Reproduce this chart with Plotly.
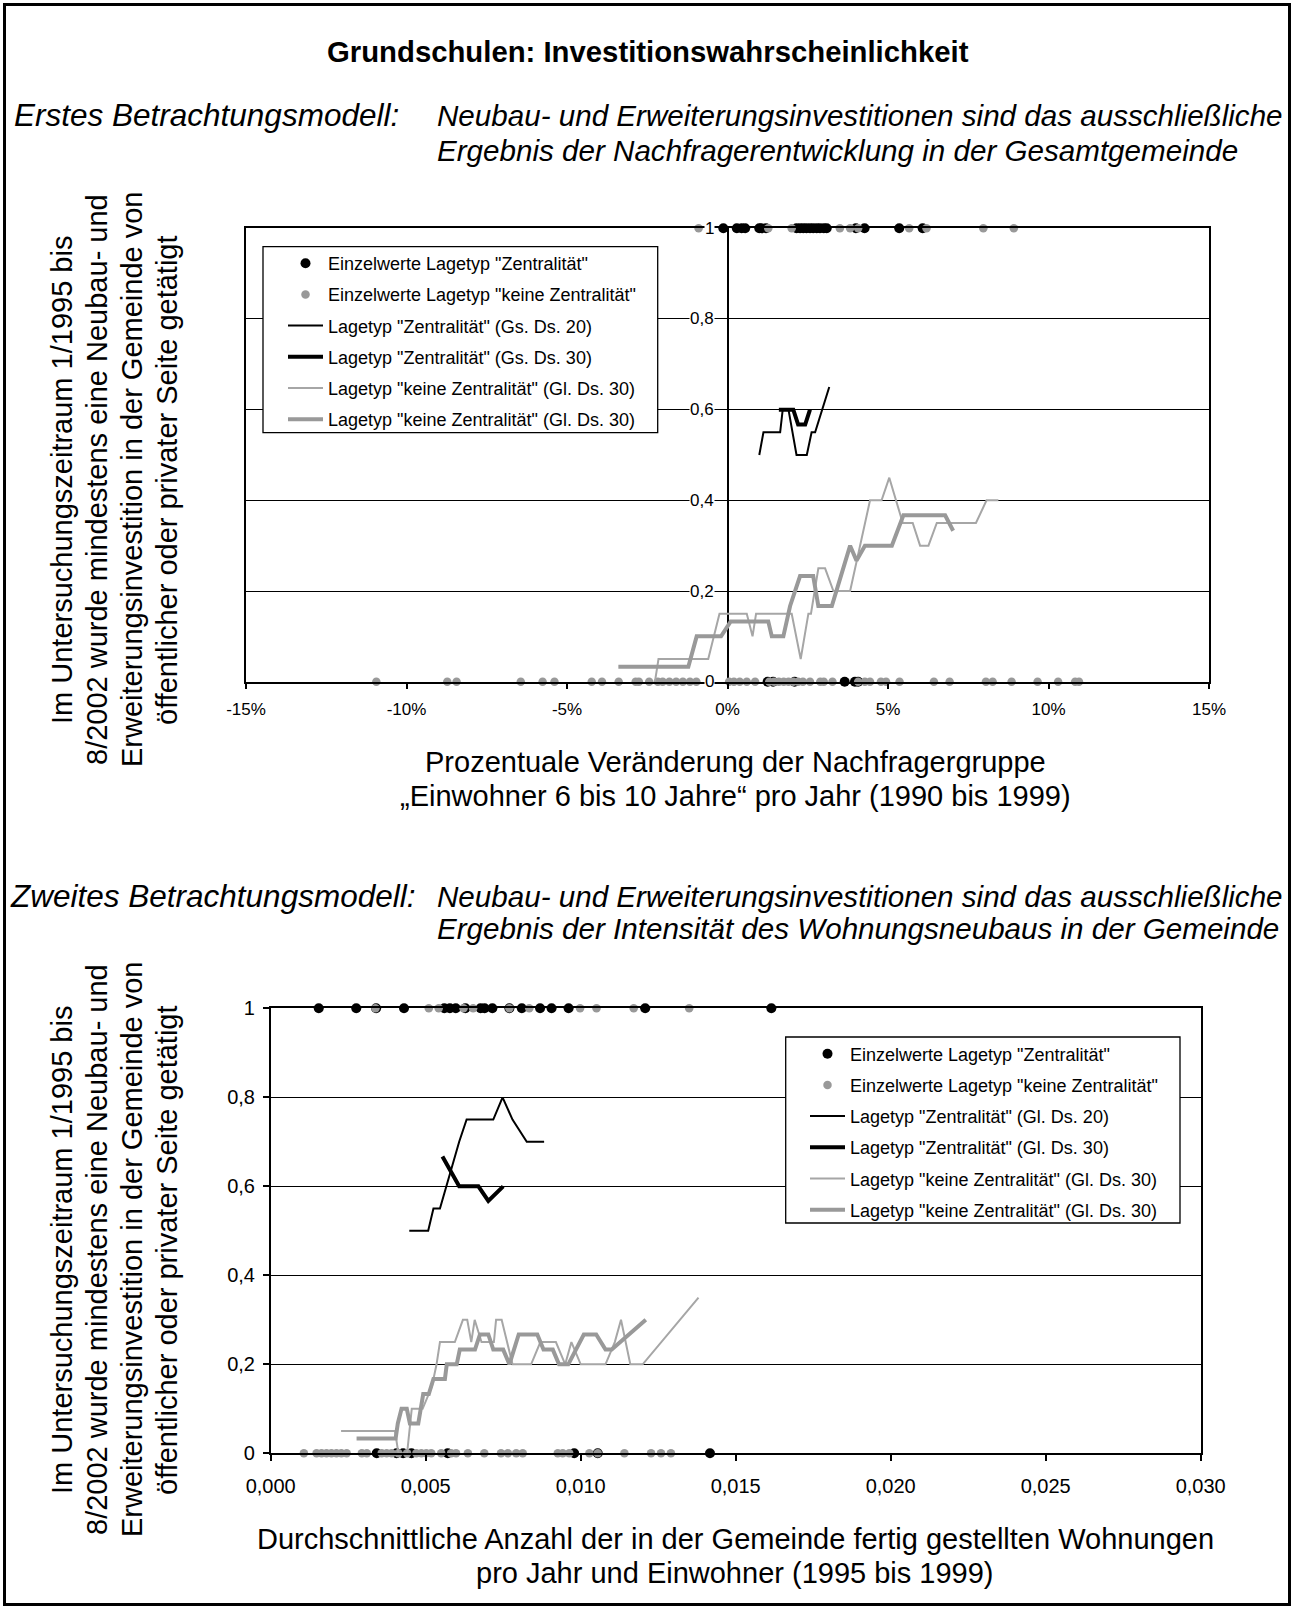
import plotly.graph_objects as go

W, H = 1294, 1609
FONT = "Liberation Sans, Arial, sans-serif"

# ---------------- data: first model (x in % change per year) ----------------
top_zentral_invest_x = [-0.13, 0.29, 0.44, 0.55, 0.99, 1.06, 1.2, 2.15, 2.26, 2.36, 2.46, 2.57,
                        2.67, 2.78, 2.88, 3.0, 3.09, 4.0, 4.27, 5.35, 6.08]
top_zentral_none_x = [1.25, 1.42, 2.09, 3.65, 3.97, 4.07]
top_keine_invest_x = [-0.9, 1.27, 2.0, 3.5, 3.82, 4.07, 5.66, 6.2, 7.97, 8.92]
top_keine_none_x = [-10.94, -8.73, -8.44, -6.44, -5.76, -5.39, -4.23, -3.91, -3.39, -2.86, -2.76,
                    -2.44, -2.17, -2.02, -1.81, -1.6, -1.39, -1.17, -0.97, 0.05, 0.2, 0.38, 0.6,
                    0.86, 1.3, 1.45, 1.6, 1.75, 1.9, 2.05, 2.2, 2.35, 2.57, 2.89, 3.0, 3.27, 4.07,
                    4.28, 4.44, 4.78, 4.94, 5.36, 6.43, 6.92, 8.05, 8.26, 8.85, 9.66, 10.3, 10.83,
                    10.95]

top_z20_x = [0.99, 1.12, 1.64, 1.72, 1.9, 2.15, 2.47, 2.62, 2.73, 3.17]
top_z20_y = [0.5, 0.55, 0.55, 0.6, 0.6, 0.5, 0.5, 0.55, 0.55, 0.65]
top_z30_x = [1.6, 2.05, 2.2, 2.42, 2.57]
top_z30_y = [0.6, 0.6, 0.567, 0.567, 0.6]
top_k30a_x = [-2.26, -2.15, -0.6, -0.25, 0.6, 0.78, 0.89, 2.0, 2.28, 2.52, 2.6, 2.83, 3.04, 3.3,
              3.82, 4.44, 4.8, 5.04, 5.46, 5.77, 6.0, 6.26, 6.52, 7.74, 8.07, 8.44]
top_k30a_y = [0.0, 0.05, 0.05, 0.15, 0.15, 0.1, 0.15, 0.15, 0.05, 0.15, 0.15, 0.25, 0.25, 0.2,
              0.2, 0.4, 0.4, 0.45, 0.35, 0.35, 0.3, 0.3, 0.35, 0.35, 0.4, 0.4]
top_k30b_x = [-3.4, -1.22, -0.96, -0.2, 0.1, 1.27, 1.38, 1.74, 1.95, 2.26, 2.67, 2.83, 3.25, 3.82,
              4.02, 4.28, 5.12, 5.48, 6.78, 7.03]
top_k30b_y = [0.033, 0.033, 0.1, 0.1, 0.133, 0.133, 0.1, 0.1, 0.167, 0.233, 0.233, 0.167, 0.167,
              0.3, 0.267, 0.3, 0.3, 0.367, 0.367, 0.333]

top_x_ticks = [-15, -10, -5, 0, 5, 10, 15]
top_x_labels = ["-15%", "-10%", "-5%", "0%", "5%", "10%", "15%"]
y_ticks = [0, 0.2, 0.4, 0.6, 0.8, 1]
y_labels = ["0", "0,2", "0,4", "0,6", "0,8", "1"]

# ---------------- data: second model (dwellings per year and inhabitant) ----------------
bot_zentral_invest_x = [0.00155, 0.00276, 0.0034, 0.0043, 0.0056, 0.00578, 0.00597, 0.00628,
                        0.00677, 0.0069, 0.00715, 0.0077, 0.0081, 0.00869, 0.00906, 0.00961,
                        0.01208, 0.01615]
bot_zentral_none_x = [0.00342, 0.00406, 0.00427, 0.00454, 0.00571, 0.00979, 0.01055, 0.01417]
bot_keine_invest_x = [0.00338, 0.0051, 0.00542, 0.00622, 0.00653, 0.0077, 0.00834, 0.00998,
                      0.01051, 0.01171, 0.0135]
bot_keine_none_x = [0.00107, 0.00148, 0.00164, 0.0018, 0.00196, 0.00212, 0.00228, 0.00245,
                    0.00294, 0.0031, 0.00358, 0.00374, 0.0039, 0.00412, 0.0044, 0.0047, 0.00486,
                    0.00502, 0.00518, 0.0055, 0.00582, 0.00598, 0.00636, 0.00689, 0.00743,
                    0.00765, 0.00792, 0.00813, 0.00926, 0.00942, 0.00963, 0.01028, 0.01055,
                    0.01141, 0.01227, 0.01259, 0.01291]

bot_z20_x = [0.00447, 0.00508, 0.00525, 0.00546, 0.00608, 0.00632, 0.00718, 0.00748, 0.0078,
             0.00826, 0.00882]
bot_z20_y = [0.5, 0.5, 0.55, 0.55, 0.7, 0.75, 0.75, 0.8, 0.75, 0.7, 0.7]
bot_z30_x = [0.00554, 0.00608, 0.0067, 0.00702, 0.0075]
bot_z30_y = [0.667, 0.6, 0.6, 0.567, 0.6]
bot_k30a_x = [0.00227, 0.00401, 0.00412, 0.0044, 0.00455, 0.0049, 0.0052, 0.00535, 0.00546,
              0.00594, 0.0062, 0.00634, 0.00647, 0.00658, 0.0068, 0.0072, 0.00727, 0.00745,
              0.0078, 0.0084, 0.0087, 0.0092, 0.0095, 0.0097, 0.01, 0.0108, 0.0111, 0.0113,
              0.0116, 0.012, 0.0138]
bot_k30a_y = [0.05, 0.05, 0.0, 0.0, 0.1, 0.1, 0.15, 0.2, 0.25, 0.25, 0.3, 0.3, 0.25, 0.3, 0.25,
              0.25, 0.3, 0.3, 0.2, 0.2, 0.25, 0.25, 0.2, 0.25, 0.2, 0.2, 0.25, 0.3, 0.2, 0.2,
              0.35]
bot_k30b_x = [0.00277, 0.00403, 0.0041, 0.00422, 0.00439, 0.00449, 0.00476, 0.00492, 0.0051,
              0.00525, 0.00562, 0.00568, 0.006, 0.0061, 0.00659, 0.00675, 0.00702, 0.00718,
              0.0075, 0.0077, 0.008, 0.0086, 0.0088, 0.0091, 0.0093, 0.0096, 0.0101, 0.0105,
              0.0108, 0.011, 0.0121]
bot_k30b_y = [0.033, 0.033, 0.067, 0.1, 0.1, 0.067, 0.067, 0.133, 0.133, 0.167, 0.167, 0.2, 0.2,
              0.233, 0.233, 0.267, 0.267, 0.233, 0.233, 0.2, 0.267, 0.267, 0.233, 0.233, 0.2,
              0.2, 0.267, 0.267, 0.233, 0.233, 0.3]

bot_x_ticks = [0, 0.005, 0.01, 0.015, 0.02, 0.025, 0.03]
bot_x_labels = ["0,000", "0,005", "0,010", "0,015", "0,020", "0,025", "0,030"]

names_top = ['Einzelwerte Lagetyp "Zentralität"', 'Einzelwerte Lagetyp "keine Zentralität"',
             'Lagetyp "Zentralität" (Gs. Ds. 20)', 'Lagetyp "Zentralität" (Gs. Ds. 30)',
             'Lagetyp "keine Zentralität" (Gl. Ds. 30)', 'Lagetyp "keine Zentralität" (Gl. Ds. 30)']
names_bot = ['Einzelwerte Lagetyp "Zentralität"', 'Einzelwerte Lagetyp "keine Zentralität"',
             'Lagetyp "Zentralität" (Gl. Ds. 20)', 'Lagetyp "Zentralität" (Gl. Ds. 30)',
             'Lagetyp "keine Zentralität" (Gl. Ds. 30)', 'Lagetyp "keine Zentralität" (Gl. Ds. 30)']

BLACK = "#000000"
GREY_M = "#999999"
GREY_T = "#a6a6a6"
GREY_K = "#999999"


def px(x):
    return x / W


def py(y):
    return 1 - y / H


fig = go.Figure()


def add_panel(xa, ya, leg, names, z_inv, z_none, k_inv, k_none, z20, z30, ka, kb, pfx):
    fig.add_trace(go.Scatter(
        x=z_inv + z_none, y=[1] * len(z_inv) + [0] * len(z_none), mode="markers",
        marker=dict(color=BLACK, size=10), name=names[0], xaxis=xa, yaxis=ya, legend=leg,
        legendgroup=pfx + "a", cliponaxis=False))
    fig.add_trace(go.Scatter(
        x=k_inv + k_none, y=[1] * len(k_inv) + [0] * len(k_none), mode="markers",
        marker=dict(color=GREY_M, size=8.5), name=names[1], xaxis=xa, yaxis=ya, legend=leg,
        legendgroup=pfx + "b", cliponaxis=False))
    fig.add_trace(go.Scatter(x=z20[0], y=z20[1], mode="lines", line=dict(color=BLACK, width=2),
                             name=names[2], xaxis=xa, yaxis=ya, legend=leg,
                             legendgroup=pfx + "c", cliponaxis=False))
    fig.add_trace(go.Scatter(x=z30[0], y=z30[1], mode="lines", line=dict(color=BLACK, width=4),
                             name=names[3], xaxis=xa, yaxis=ya, legend=leg,
                             legendgroup=pfx + "d", cliponaxis=False))
    fig.add_trace(go.Scatter(x=ka[0], y=ka[1], mode="lines", line=dict(color=GREY_T, width=2),
                             name=names[4], xaxis=xa, yaxis=ya, legend=leg,
                             legendgroup=pfx + "e", cliponaxis=False))
    fig.add_trace(go.Scatter(x=kb[0], y=kb[1], mode="lines", line=dict(color=GREY_K, width=4),
                             name=names[5], xaxis=xa, yaxis=ya, legend=leg,
                             legendgroup=pfx + "f", cliponaxis=False))


add_panel("x", "y", "legend", names_top, top_zentral_invest_x, top_zentral_none_x,
          top_keine_invest_x, top_keine_none_x, (top_z20_x, top_z20_y), (top_z30_x, top_z30_y),
          (top_k30a_x, top_k30a_y), (top_k30b_x, top_k30b_y), "t")
add_panel("x2", "y2", "legend2", names_bot, bot_zentral_invest_x, bot_zentral_none_x,
          bot_keine_invest_x, bot_keine_none_x, (bot_z20_x, bot_z20_y), (bot_z30_x, bot_z30_y),
          (bot_k30a_x, bot_k30a_y), (bot_k30b_x, bot_k30b_y), "b")

# plot areas (pixels)
T_L, T_R, T_T, T_B = 246, 1209, 228.3, 681.7
B_L, B_R, B_T, B_B = 270.7, 1200.7, 1008.3, 1453.3

axis_common = dict(showline=True, linecolor=BLACK, linewidth=1.5, mirror=True,
                   ticks="outside", ticklen=6, tickcolor=BLACK, tickwidth=1.5)

fig.update_layout(
    width=W, height=H, autosize=False,
    margin=dict(l=0, r=0, t=0, b=0, pad=0, autoexpand=False),
    paper_bgcolor="white", plot_bgcolor="white",
    font=dict(family=FONT, color=BLACK),
    showlegend=True,
    xaxis=dict(domain=[px(T_L), px(T_R)], range=[-15, 15], anchor="y",
               tickvals=top_x_ticks, ticktext=top_x_labels, tickfont=dict(size=17),
               showgrid=False, zeroline=True, zerolinecolor=BLACK, zerolinewidth=1.5,
               ticklabelstandoff=5, automargin=False, **axis_common),
    yaxis=dict(domain=[py(T_B), py(T_T)], range=[0, 1], anchor="x",
               tickvals=y_ticks, showticklabels=False, showgrid=True, gridcolor=BLACK,
               gridwidth=1.3, zeroline=False, showline=True, linecolor=BLACK, linewidth=1.5,
               mirror=True, ticks="", automargin=False),
    xaxis2=dict(domain=[px(B_L), px(B_R)], range=[0, 0.03], anchor="y2",
                tickvals=bot_x_ticks, ticktext=bot_x_labels, tickfont=dict(size=20),
                showgrid=False, zeroline=False, ticklabelstandoff=8, automargin=False,
                **axis_common),
    yaxis2=dict(domain=[py(B_B), py(B_T)], range=[0, 1], anchor="x2",
                tickvals=y_ticks, ticktext=y_labels, tickfont=dict(size=20),
                showgrid=True, gridcolor=BLACK, gridwidth=1.3, zeroline=False,
                ticklabelstandoff=4, automargin=False, **axis_common),
    legend=dict(x=px(283), y=py(245), xanchor="left", yanchor="top",
                bgcolor="rgba(0,0,0,0)", borderwidth=0, itemwidth=35, tracegroupgap=4.8,
                font=dict(size=18, family=FONT, color=BLACK)),
    legend2=dict(x=px(805), y=py(1035.5), xanchor="left", yanchor="top",
                 bgcolor="rgba(0,0,0,0)", borderwidth=0, itemwidth=35, tracegroupgap=4.8,
                 font=dict(size=18, family=FONT, color=BLACK)),
)

shapes = [
    dict(type="rect", xref="paper", yref="paper", x0=px(4.5), x1=px(1289.5), y0=py(4.5),
         y1=py(1604.5), line=dict(color=BLACK, width=3)),
    dict(type="rect", xref="paper", yref="paper", x0=px(263), x1=px(657.7), y0=py(246.7),
         y1=py(432.7), line=dict(color=BLACK, width=1.3), fillcolor="white", layer="above"),
    dict(type="rect", xref="paper", yref="paper", x0=px(785.7), x1=px(1180), y0=py(1037),
         y1=py(1223), line=dict(color=BLACK, width=1.3), fillcolor="white", layer="above"),
]
fig.update_layout(shapes=shapes)

ann = []


def text(x, y, s, size, anchor="left", italic=False, bold=False, angle=0):
    if bold:
        s = "<b>" + s + "</b>"
    if italic:
        s = "<i>" + s + "</i>"
    ann.append(dict(xref="paper", yref="paper", x=px(x), y=py(y), text=s, showarrow=False,
                    xanchor=anchor, yanchor="middle", textangle=angle,
                    font=dict(size=size, family=FONT, color=BLACK)))


text(648, 51, "Grundschulen: Investitionswahrscheinlichkeit", 29.3, "center", bold=True)
text(12, 115, "Erstes Betrachtungsmodell:", 31.5, italic=True)
text(435, 115, "Neubau- und Erweiterungsinvestitionen sind das ausschließliche", 29.6, italic=True)
text(435, 150, "Ergebnis der Nachfragerentwicklung in der Gesamtgemeinde", 29.6, italic=True)
text(8, 896, "Zweites Betrachtungsmodell:", 31.5, italic=True)
text(435, 896, "Neubau- und Erweiterungsinvestitionen sind das ausschließliche", 29.6, italic=True)
text(435, 929, "Ergebnis der Intensität des Wohnungsneubaus in der Gemeinde", 29.6, italic=True)

ytitle = ["Im Untersuchungszeitraum 1/1995 bis",
          "8/2002 wurde mindestens eine Neubau- und",
          "Erweiterungsinvestition in der Gemeinde von",
          "öffentlicher oder privater Seite getätigt"]
for cy in (480, 1250):
    for i, line in enumerate(ytitle):
        text(62 + 35 * i, cy, line, 29, "center", angle=-90)

text(735, 762, "Prozentuale Veränderung der Nachfragergruppe", 29, "center")
text(735, 796, "„Einwohner 6 bis 10 Jahre“ pro Jahr (1990 bis 1999)", 29, "center")
text(735, 1539, "Durchschnittliche Anzahl der in der Gemeinde fertig gestellten Wohnungen", 29,
     "center")
text(735, 1573, "pro Jahr und Einwohner (1995 bis 1999)", 29, "center")

# y tick labels of first chart sit beside the vertical axis at 0 %
for v, lab in zip(y_ticks, y_labels):
    ann.append(dict(xref="x", yref="y", x=0, y=v, text=lab, showarrow=False, xanchor="right",
                    yanchor="middle", xshift=-13, bgcolor="white", borderpad=0,
                    font=dict(size=17, family=FONT, color=BLACK)))

fig.update_layout(annotations=ann)

fig.write_html("out.html", post_script="document.body.style.margin='0';")
